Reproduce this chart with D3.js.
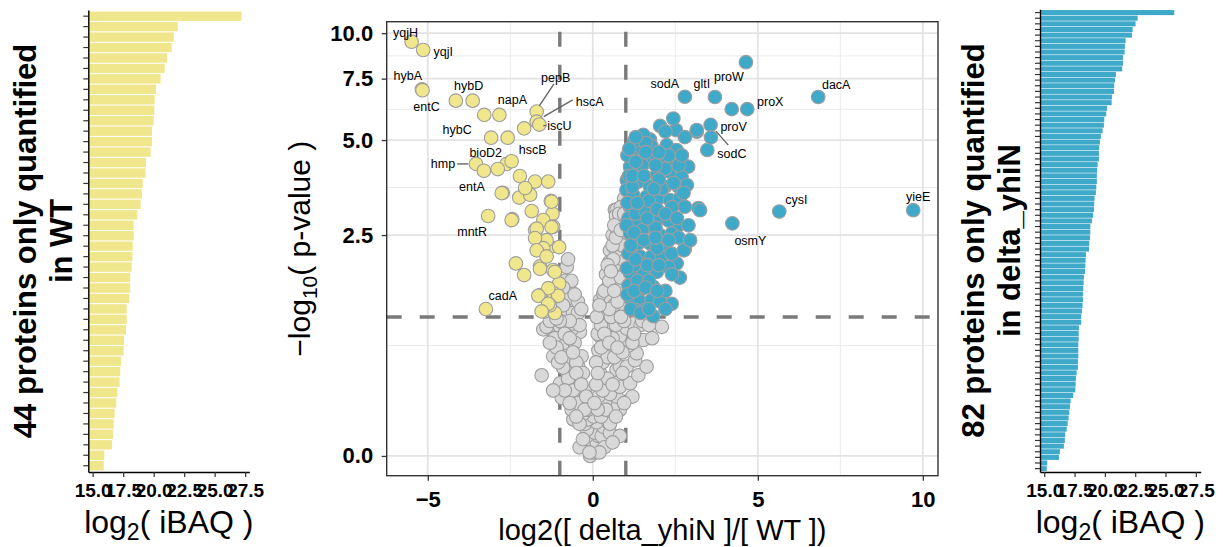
<!DOCTYPE html>
<html><head><meta charset="utf-8">
<script src="https://cdn.jsdelivr.net/npm/d3@7"></script>
<style>
body{margin:0;background:#fff}
svg{display:block}
text{font-family:"Liberation Sans",Arial,Helvetica,sans-serif;fill:#000}
</style>
</head><body>
<svg id="chart" width="1223" height="547"></svg>
<script>
// ---------------- DATA ----------------
// log2(iBAQ) of proteins only quantified in WT (sorted)
const wtOnlyIBAQ = [27.21,21.97,21.64,21.48,21.09,20.90,20.57,20.19,20.08,20.05,
  20.00,19.86,19.86,19.75,19.37,19.34,19.10,19.04,18.93,18.66,
  18.36,18.36,18.28,18.26,18.20,18.08,18.08,18.00,17.79,17.79,
  17.73,17.57,17.54,17.32,17.26,17.21,17.02,16.93,16.80,16.72,
  16.66,16.58,15.95,15.90];
// log2(iBAQ) of proteins only quantified in delta_yhiN (sorted)
const mutOnlyIBAQ = [25.72,22.70,22.53,22.29,22.23,21.71,21.65,21.63,21.49,21.49,
  21.43,20.91,20.83,20.77,20.75,20.58,20.56,20.17,20.11,19.95,
  19.92,19.81,19.67,19.59,19.53,19.51,19.51,19.40,19.37,19.34,
  19.34,19.29,19.26,19.15,19.12,19.10,19.02,18.93,18.80,18.80,
  18.77,18.71,18.69,18.44,18.41,18.39,18.36,18.27,18.25,18.22,
  18.19,18.19,18.16,18.11,18.05,18.05,17.86,17.84,17.84,17.81,
  17.81,17.81,17.78,17.78,17.67,17.61,17.59,17.56,17.39,17.18,
  17.12,17.07,17.01,16.93,16.85,16.73,16.70,16.62,16.29,16.21,
  15.25,15.20];
const barTicks = [15, 17.5, 20, 22.5, 25, 27.5];

const volcanoXTicks = [-5, 0, 5, 10];
const volcanoYTicks = [0, 2.5, 5, 7.5, 10];
const fcCutoff = 1;        // |log2 FC|
const pCutoff = 1.2;       // -log10 p threshold line

// [log2FC, -log10 p]
const grayPoints = [
 [-0.08,0.0],[-0.03,0.035],[0.02,0.02],[0.07,0.055],[-0.08,0.095],[0.12,0.08],[0.17,0.12],[-0.18,0.12],[0.07,0.14],[-0.18,0.16],
 [0.27,0.12],[0.32,0.18],[0.52,0.14],[0.82,0.12],[-0.24,0.20],[0.12,0.21],[0.47,0.21],[-0.14,0.23],[-0.59,0.23],[0.02,0.25],
 [0.52,0.20],[-0.29,0.27],[-0.64,0.30],[0.82,0.30],[0.62,0.32],[-0.03,0.35],[0.37,0.35],[-0.34,0.35],[-0.34,0.40],[0.17,0.40],
 [0.72,0.40],[-0.94,0.39],[0.52,0.42],[-0.69,0.45],[0.82,0.48],[-0.99,0.51],[-0.49,0.51],[0.17,0.51],[0.37,0.51],[1.13,0.51],
 [-0.54,0.55],[-1.55,0.58],[-0.64,0.60],[0.22,0.60],[1.38,0.58],[0.72,0.63],[-0.44,0.66],[0.82,0.66],[1.03,0.66],[1.63,0.66],
 [0.22,0.69],[-0.79,0.71],[1.28,0.72],[-1.2,0.76],[-0.34,0.76],[0.57,0.80],[1.33,0.79],[0.17,0.82],[-0.89,0.82],[-0.69,0.84],
 [1.08,0.87],[0.32,0.89],[1.53,0.93],[-1.09,0.93],[0.22,0.97],[0.82,0.97],[-0.99,0.98],[-0.39,1.02],[-1.25,1.04],[-1.5,1.05],
 [-0.64,1.05],[1.03,1.06],[0.52,1.08],[2.09,1.08],[-1.4,1.08],[-0.99,1.08],[-0.89,1.12],[1.23,1.12],[-0.59,1.12],[0.27,1.16],
 [-0.54,1.16],[0.32,1.33],[0.72,1.29],[-0.79,1.29],[0.27,1.29],[-0.69,1.37],[-0.49,1.33],[0.22,1.42],[0.37,1.48],[0.82,1.51],
 [-0.99,1.48],[-0.69,1.56],[-0.79,1.92],[0.32,1.51],[0.52,2.21],[0.67,3.04],[0.72,3.04],[0.92,3.11],
 [0.45,1.6],[0.6,1.75],[0.75,1.9],[0.9,2.05],[0.5,2.0],[0.7,2.2],[0.85,2.4],[0.95,2.6],[0.6,2.5],[0.8,2.75],
 [0.9,3.0],[0.95,3.3],[0.85,3.1],[0.7,2.9],[0.4,1.8],[0.35,1.55],[0.55,1.4],[0.65,1.35],[0.8,1.6],[0.95,1.8],
 [0.9,2.3],[0.75,2.55],[0.92,2.85],[0.62,2.05],[0.5,1.7],[0.45,1.95],[0.6,2.3],
 [-0.85,1.7],[-0.75,1.45],[-0.6,1.25],[-0.9,1.35],[-0.45,1.25],[-0.4,1.1],[-1.3,1.15],[-0.7,1.15],[-1.15,0.95],[-0.8,0.9],
 [-0.55,0.9],[-0.5,0.7],[-0.3,0.6],[-0.25,0.45],[-0.15,0.3],[-0.45,0.35],[-0.75,0.55],[-0.9,0.65],[-1.05,0.7],[-0.6,0.45],[-0.4,0.2],
 [0.25,0.25],[0.4,0.3],[0.3,0.45],[0.45,0.55],[0.6,0.5],[0.3,0.7],[0.45,0.75],[0.65,0.75],[0.4,0.95],[0.6,0.95],
 [0.7,1.1],[0.4,1.2],[0.9,0.8],[0.95,1.15],[1.0,1.3],[0.15,0.3],[0.1,0.5],[0.1,0.7],[0.15,1.0],[0.25,1.1],
 [0.55,1.2],[0.85,1.2],[1.45,1.1],[1.8,0.95],[0.35,0.05],[0.6,0.08],[-0.4,0.05],[-0.3,0.1],[0.2,0.02],[-0.1,0.02],
 [-1.1,0.85],[-1.3,0.9],[-0.95,0.75],[-0.85,1.0],[-0.7,0.95],[-1.0,1.15],[-0.6,0.8],[-0.5,0.6],[-0.35,0.5],[-0.2,0.4],
 [-0.25,0.3],[-0.5,0.25],[-0.7,0.35],[-0.85,0.45],[-1.2,0.45],[-0.45,1.4],[-0.55,1.5],[-0.65,1.7],[-0.75,2.05],[-0.9,1.6],
 [-0.35,1.3],[-1.1,1.18],
 [0.15,0.6],[0.25,0.85],[0.35,1.0],[0.5,1.3],[0.75,1.4],[0.65,1.55],[0.85,1.75],[0.55,1.85],[0.7,2.45],[0.8,2.95],
 [0.65,2.7],[0.95,2.95],[0.85,2.6],[0.5,0.9],[0.75,0.85],[1.2,0.9],[1.5,1.15],[1.25,1.0],[1.7,1.1],[0.9,0.6],
 [1.2,0.4],[0.95,0.35],[0.7,0.25],[0.05,0.35],[0.12,1.2],[0.2,1.35]
];
const yellowPoints = [
 [-4.15,6.50],[-3.29,5.92],[-2.08,5.41],[-2.61,4.24],[-2.46,4.32],[-2.21,3.89],[-1.75,3.74],[-1.35,3.74],[-2.73,3.45],[-2.23,3.33],
 [-1.90,3.40],[-2.05,3.57],[-1.27,3.25],[-1.85,3.01],[-2.44,2.83],[-1.22,2.95],[-1.20,2.67],[-1.75,2.60],[-1.50,2.81],[-1.70,2.44],
 [-1.30,2.27],[-1.02,2.27],[-1.40,2.40],[-1.50,2.25],[-2.33,1.98],[-2.08,1.79],[-1.60,1.93],[-1.20,1.87],[-1.02,1.66],[-1.60,1.49],
 [-1.20,1.52],[-1.05,1.48],[-1.45,1.27],[-1.15,1.25],[-1.30,1.35],[-1.25,3.23],[-1.70,2.63],[-1.25,2.66],[-1.75,2.44],[-1.70,2.21],
 [-1.40,2.10],[-1.60,1.89],[-1.15,1.84],[-1.35,1.59],[-1.65,1.48],[-1.35,1.37],[-1.55,1.27],[-2.76,3.44],[-2.46,2.81]
];
const bluePoints = [
 [2.52,5.35],[3.15,5.29],[1.48,5.13],[1.73,5.02],[1.78,4.80],[2.24,4.83],[2.54,4.67],[2.89,4.16],[1.38,4.67],[1.18,4.46],
 [1.58,4.36],[2.09,4.26],[2.44,4.36],[1.13,4.16],[1.43,4.06],[1.94,3.92],[2.34,4.01],[2.69,3.87],[1.03,3.78],[1.38,3.74],
 [1.73,3.61],[2.19,3.61],[2.59,3.61],[2.85,3.65],[1.02,3.52],[1.23,3.39],[1.63,3.35],[1.98,3.31],[2.34,3.27],[2.64,3.31],
 [2.79,3.11],[3.20,3.08],[1.13,3.11],[1.43,3.04],[1.78,2.97],[2.04,2.85],[2.39,2.92],[2.54,2.66],[1.08,2.85],[1.33,2.74],
 [1.63,2.66],[2.04,2.50],[2.39,2.53],[2.79,2.24],[1.13,2.53],[1.38,2.34],[1.73,2.34],[2.19,2.27],[2.54,1.98],[1.08,2.15],
 [1.43,2.10],[1.78,2.10],[2.09,2.10],[2.39,2.15],[1.13,1.82],[1.53,1.84],[1.94,1.84],[2.29,1.92],[1.08,1.63],[1.43,1.56],
 [1.83,1.61],[2.09,1.46],[2.39,1.37],[1.18,1.42],[1.58,1.37],[1.43,1.40],[1.78,1.42],[2.04,1.40],[1.28,1.29],[1.58,1.29],
 [1.83,1.21],[2.04,5.50],[2.44,5.78],[1.53,5.18],[1.75,4.83],[2.79,5.10],[3.15,5.35],[3.25,3.03],[2.76,2.21],[1.05,4.5],
 [1.1,3.9],[1.2,3.6],[1.3,2.95],[1.5,2.6],[1.6,3.0],[1.9,2.65],[2.1,3.55],[1.9,4.5],[2.2,4.1],[1.05,3.2],
 [1.15,2.3],[1.25,1.95],[1.35,1.7],[1.5,4.2],[1.7,3.25],[2.0,3.8],[2.4,3.1],[2.6,2.45],[2.9,2.7],[1.02,2.7],
 [1.03,1.9],[1.05,1.5],[1.7,1.7],[2.2,1.55],[1.95,2.25],[2.3,2.8],[1.25,4.95],[1.6,4.9],[2.64,1.75],[2.95,2.4],
 [4.21,6.15],[3.47,4.67],
 [1.3,4.3],[1.6,4.6],[1.9,4.2],[2.3,4.5],[2.6,4.2],[1.2,3.9],[1.55,3.9],[1.85,3.55],[2.45,3.7],[2.75,3.45],
 [1.35,3.2],[1.65,2.85],[1.95,3.05],[2.2,2.95],[2.55,2.85],[1.25,2.55],[1.55,2.4],[1.9,2.45],[2.3,2.4],[1.3,2.05],
 [1.65,1.95],[2.0,1.95],[2.4,1.8],[1.25,1.55],[1.6,1.6],[1.95,1.55],[1.15,1.3],[1.45,1.25],[1.7,1.3],[2.2,1.3],
 [2.0,4.6],[2.7,4.5],[1.1,4.7],[1.3,5.1],[2.2,5.3]
];
// named proteins: [name, log2FC, -log10 p]
const labelledProteins = [
 ["yqjH",-5.49,9.48],["yqjI",-5.14,9.0],["hybA",-5.18,7.0],["entC",-5.16,6.96],["hybD",-3.64,6.50],
 ["napA",-2.83,5.92],["hybC",-3.08,5.08],["pepB",-1.70,6.05],["hscA",-1.70,5.66],["iscU",-1.62,5.55],
 ["hscB",-2.58,5.08],["bioD2",-2.88,4.09],["hmp",-3.54,4.24],["entA",-3.30,4.04],["mntR",-3.17,2.90],
 ["cadA",-3.24,1.30],
 ["proW",4.64,8.33],["sodA",2.79,6.67],["gltI",3.70,6.66],["proX",4.68,6.15],["dacA",6.83,6.66],
 ["proV",3.57,5.54],["sodC",3.58,5.09],["cysI",5.65,3.00],["osmY",4.23,2.74],["yieE",9.71,3.03]
];

// ---------------- LAYOUT / STYLE ----------------
const YELLOW = "#F0E68C", BLUE = "#3FA9CA", GRAY = "#D9D9D9";
const FONT = '"Liberation Sans",Arial,Helvetica,sans-serif';
// label placement (pixel offsets of label centre from point; optional leader segment)
const labelLayout = {
 yqjH:{dx:-6,dy:-9}, yqjI:{dx:20,dy:2}, hybA:{dx:-14,dy:-13}, entC:{dx:4,dy:17}, hybD:{dx:-4,dy:-15},
 napA:{dx:13,dy:-15}, hybC:{dx:-34,dy:-8}, pepB:{dx:19,dy:-34,seg:[2.6,-5.7,17.3,-27.7]},
 hscA:{dx:53,dy:-20,seg:[7,-5,36,-21.7]}, iscU:{dx:20,dy:1,seg:[4,1,7,1]}, hscB:{dx:25,dy:12},
 bioD2:{dx:-12,dy:-16}, hmp:{dx:-33,dy:0,seg:[-7.7,0,-18.7,0]}, entA:{dx:-12,dy:16}, mntR:{dx:-16,dy:16},
 cadA:{dx:17,dy:-13},
 sodA:{dx:-20,dy:-13}, gltI:{dx:-13,dy:-13}, proW:{dx:-17,dy:15}, dacA:{dx:18,dy:-12}, proX:{dx:23,dy:-7},
 proV:{dx:23,dy:2}, sodC:{dx:21,dy:17,seg:[5,-6.3,17.3,7.7]}, cysI:{dx:17,dy:-12}, osmY:{dx:18,dy:18},
 yieE:{dx:5,dy:-13}
};

const svg = d3.select("#chart");

// ---------------- BAR PANELS ----------------
function barPanel(values, color, opt) {
  const g = svg.append("g");
  const xs = d3.scaleLinear().domain(opt.xDomain).range(opt.xRange);
  const ys = d3.scaleBand().domain(d3.range(values.length)).range([opt.top, opt.bottom])
              .paddingInner(0.1).paddingOuter(0.15);
  g.selectAll("rect").data(values).join("rect")
    .attr("x", xs.range()[0]).attr("y", (d, i) => ys(i))
    .attr("width", d => xs(d) - xs.range()[0]).attr("height", ys.bandwidth())
    .attr("fill", color);
  const ya = g.append("g").attr("transform", `translate(${opt.xRange[0]},0)`)
    .call(d3.axisLeft(ys).tickFormat("").tickSize(5).tickSizeOuter(0));
  ya.selectAll(".tick line").attr("stroke", "#333").attr("stroke-width", 1.2);
  ya.select(".domain").attr("stroke", "#000").attr("stroke-width", 1.4);
  const xa = g.append("g").attr("transform", `translate(0,${opt.bottom})`)
    .call(d3.axisBottom(xs).tickValues(barTicks).tickFormat(d3.format(".1f")).tickSize(5).tickPadding(7).tickSizeOuter(0));
  xa.select(".domain").attr("stroke", "#000").attr("stroke-width", 1.4);
  xa.selectAll(".tick line").attr("stroke", "#333").attr("stroke-width", 1.2);
  xa.selectAll(".tick text").attr("font-family", FONT).attr("font-size", 19).attr("font-weight", "bold").attr("fill", "#000");
  // x title log2( iBAQ )
  const cx = (opt.xRange[0] + opt.xRange[1]) / 2;
  const t = g.append("text").attr("x", cx).attr("y", 533).attr("text-anchor", "middle")
    .attr("font-size", 32);
  t.append("tspan").text("log");
  t.append("tspan").attr("font-size", 23).attr("dy", 7).text("2");
  t.append("tspan").attr("dy", -7).text("( iBAQ )");
  // y title
  const cy = (opt.top + opt.bottom) / 2;
  const yt = g.append("text").attr("transform", `translate(0,${cy}) rotate(-90)`)
    .attr("text-anchor", "middle").attr("font-size", 31).attr("font-weight", "bold");
  yt.append("tspan").attr("x", 0).attr("y", opt.title1X).text(opt.title[0]);
  yt.append("tspan").attr("x", 0).attr("y", opt.title2X).text(opt.title[1]);
}

barPanel(wtOnlyIBAQ, YELLOW, {
  xDomain: [14.64, 27.84], xRange: [88.3, 249.3], top: 9.9, bottom: 472,
  title: ["44 proteins only quantified", "in WT"], title1X: 36, title2X: 72
});
barPanel(mutOnlyIBAQ, BLUE, {
  xDomain: [14.65, 27.9], xRange: [1040, 1200.7], top: 9.2, bottom: 472,
  title: ["82 proteins only quantified", "in delta_yhiN"], title1X: 984, title2X: 1020
});

// ---------------- VOLCANO ----------------
const P = {left: 386.7, right: 938, top: 21.7, bottom: 475.7};
const vx = d3.scaleLinear().domain([-6.245, 10.46]).range([P.left, P.right]);
// y axis uses a log10(1 + value) transform
const vyLog = d3.scaleLog().domain([0.894, 11.74]).range([P.bottom, P.top]);
const vy = v => vyLog(1 + v);

const vg = svg.append("g");
vg.append("rect").attr("x", P.left).attr("y", P.top).attr("width", P.right - P.left)
  .attr("height", P.bottom - P.top).attr("fill", "#fff");
vg.append("clipPath").attr("id", "pclip").append("rect")
  .attr("x", P.left).attr("y", P.top).attr("width", P.right - P.left).attr("height", P.bottom - P.top);

// grid
const minorY = d3.pairs(volcanoYTicks).map(([a, b]) => Math.sqrt((1 + a) * (1 + b)) - 1);
const minorX = d3.pairs([-10].concat(volcanoXTicks)).map(([a, b]) => (a + b) / 2)
  .filter(v => v > vx.domain()[0] && v < vx.domain()[1]);
const grid = vg.append("g");
grid.selectAll(".gmy").data(minorY).join("line").attr("x1", P.left).attr("x2", P.right)
  .attr("y1", d => vy(d)).attr("y2", d => vy(d)).attr("stroke", "#EBEBEB").attr("stroke-width", 1);
grid.selectAll(".gmx").data(minorX).join("line").attr("y1", P.top).attr("y2", P.bottom)
  .attr("x1", d => vx(d)).attr("x2", d => vx(d)).attr("stroke", "#EBEBEB").attr("stroke-width", 1);
grid.selectAll(".gy").data(volcanoYTicks).join("line").attr("x1", P.left).attr("x2", P.right)
  .attr("y1", d => vy(d)).attr("y2", d => vy(d)).attr("stroke", "#E3E3E3").attr("stroke-width", 1.8);
grid.selectAll(".gx").data(volcanoXTicks).join("line").attr("y1", P.top).attr("y2", P.bottom)
  .attr("x1", d => vx(d)).attr("x2", d => vx(d)).attr("stroke", "#E3E3E3").attr("stroke-width", 1.8);

// threshold lines
const dash = "15,18";
[-fcCutoff, fcCutoff].forEach(v => {
  vg.append("line").attr("x1", vx(v)).attr("x2", vx(v)).attr("y1", P.bottom).attr("y2", P.top)
    .attr("stroke", "#7A7A7A").attr("stroke-width", 3.4).attr("stroke-dasharray", dash);
});
vg.append("line").attr("x1", P.left).attr("x2", P.right).attr("y1", vy(pCutoff)).attr("y2", vy(pCutoff))
  .attr("stroke", "#7A7A7A").attr("stroke-width", 3.4).attr("stroke-dasharray", dash);

// points
const pts = vg.append("g").attr("clip-path", "url(#pclip)");
const labelledYellow = labelledProteins.filter(d => d[1] < 0).map(d => [d[1], d[2]]);
const labelledBlue = labelledProteins.filter(d => d[1] > 0).map(d => [d[1], d[2]]);
function drawPts(data, fill) {
  pts.append("g").selectAll("circle").data(data).join("circle")
    .attr("cx", d => vx(d[0])).attr("cy", d => vy(d[1])).attr("r", 6.8)
    .attr("fill", fill).attr("stroke", "#9E9E9E").attr("stroke-width", 1.1);
}
drawPts(grayPoints, GRAY);
drawPts(yellowPoints.concat(labelledYellow), YELLOW);
drawPts(bluePoints.concat(labelledBlue), BLUE);

// labels
const lab = vg.append("g");
labelledProteins.forEach(([name, x, y]) => {
  const L = labelLayout[name];
  const px = vx(x), py = vy(y);
  if (L.seg) {
    lab.append("line").attr("x1", px + L.seg[0]).attr("y1", py + L.seg[1])
      .attr("x2", px + L.seg[2]).attr("y2", py + L.seg[3])
      .attr("stroke", "#666").attr("stroke-width", 1.4);
  }
  lab.append("text").attr("x", px + L.dx).attr("y", py + L.dy).attr("text-anchor", "middle")
    .attr("dominant-baseline", "central").attr("font-size", 12.5).text(name);
});

// border
vg.append("rect").attr("x", P.left).attr("y", P.top).attr("width", P.right - P.left)
  .attr("height", P.bottom - P.top).attr("fill", "none").attr("stroke", "#333").attr("stroke-width", 1.4);

// axes
const yAx = vg.append("g").attr("transform", `translate(${P.left},0)`)
  .call(d3.axisLeft(vyLog).tickValues(volcanoYTicks.map(v => v + 1))
        .tickFormat(d => d3.format(".1f")(d - 1)).tickSize(5).tickPadding(8.5));
yAx.select(".domain").remove();
yAx.selectAll(".tick line").attr("stroke", "#333").attr("stroke-width", 1.3);
yAx.selectAll(".tick text").attr("font-family", FONT).attr("font-size", 22).attr("font-weight", "bold").attr("fill", "#000");

const xAx = vg.append("g").attr("transform", `translate(0,${P.bottom})`)
  .call(d3.axisBottom(vx).tickValues(volcanoXTicks).tickFormat(d3.format("d")).tickSize(5).tickPadding(11));
xAx.select(".domain").remove();
xAx.selectAll(".tick line").attr("stroke", "#333").attr("stroke-width", 1.3);
xAx.selectAll(".tick text").attr("font-family", FONT).attr("font-size", 22).attr("font-weight", "bold").attr("fill", "#000");

// axis titles
vg.append("text").attr("x", (P.left + P.right) / 2).attr("y", 540).attr("text-anchor", "middle")
  .attr("font-size", 29).text("log2([ delta_yhiN ]/[ WT ])");
const yTitle = vg.append("text").attr("transform", `translate(310,${(P.top + P.bottom) / 2}) rotate(-90)`)
  .attr("text-anchor", "middle").attr("font-size", 30);
yTitle.append("tspan").text("\u2212log");
yTitle.append("tspan").attr("font-size", 21).attr("dy", 7).text("10");
yTitle.append("tspan").attr("dy", -7).text("( p-value )");
</script>
</body></html>
